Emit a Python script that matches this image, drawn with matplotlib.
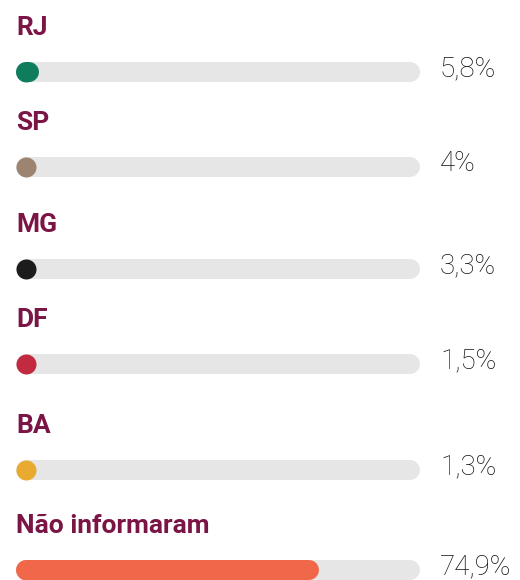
import matplotlib
matplotlib.use("Agg")
import matplotlib.pyplot as plt

# Data
labels = ["RJ", "SP", "MG", "DF", "BA", "Não informaram"]
values = [5.8, 4.0, 3.3, 1.5, 1.3, 74.9]
value_text = ["5,8%", "4%", "3,3%", "1,5%", "1,3%", "74,9%"]
colors = ["#0e7d5e", "#9c8471", "#1c1c1c", "#c22a40", "#e9aa30", "#f06849"]

W, H = 520, 580
track_left, track_right = 16, 420
bar_h = 20                                  # px
row_y = [72, 167, 269, 364, 470, 570]       # bar centres, px from top
label_off = 37                              # label baseline above bar centre
value_off = 4                               # value baseline below bar centre

fig = plt.figure(figsize=(W / 100, H / 100), dpi=100)
ax = fig.add_axes([track_left / W, 0, (track_right - track_left) / W, 1])
ax.set_xlim(0, 100)
ax.set_ylim(H, 0)
ax.axis("off")

lw = bar_h * 72 / 100          # line width in points
r = (bar_h / 2) / (track_right - track_left) * 100  # cap radius in data units

for lab, v, txt, c, by in zip(labels, values, value_text, colors, row_y):
    ax.text(0, by - label_off, lab, fontsize=19, fontweight="bold",
            color="#7a1546", family="Roboto", va="baseline", ha="left")
    # grey track
    ax.plot([r, 100 - r], [by, by], color="#e6e6e6", lw=lw,
            solid_capstyle="round", clip_on=False)
    # value bar, never shorter than a dot
    end = max(r, v - r)
    ax.plot([r], [by], "o", ms=lw, color=c, mec="none", clip_on=False)
    if end > r:
        ax.plot([r, end], [by, by], color=c, lw=lw, solid_capstyle="round",
                clip_on=False)
    ax.text(100 + 20 / (track_right - track_left) * 100, by + value_off, txt,
            fontsize=20, fontweight="light", color="#111111",
            family="Roboto", va="baseline", ha="left", clip_on=False)

fig.savefig("out.png", dpi=100)
